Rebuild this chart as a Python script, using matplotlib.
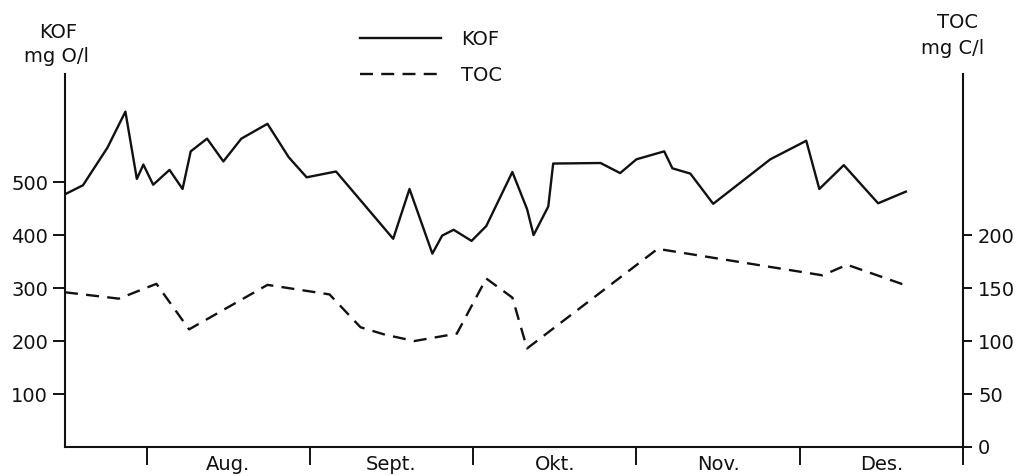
import matplotlib
matplotlib.use("Agg")
import matplotlib.pyplot as plt

plt.rcParams['font.family'] = ['DejaVu Sans']

# x positions in month units: 1 = start of Aug, 2 = start of Sept, ... 6 = end of Dec
kof_x = [0.50, 0.61, 0.76, 0.87, 0.94, 0.98, 1.04, 1.14, 1.22, 1.27, 1.37, 1.47,
         1.58, 1.74, 1.87, 1.98, 2.16, 2.51, 2.61, 2.75, 2.81, 2.88, 2.99, 3.08,
         3.24, 3.33, 3.37, 3.46, 3.49, 3.78, 3.90, 4.00, 4.17, 4.22, 4.33, 4.47,
         4.82, 5.04, 5.12, 5.27, 5.48, 5.65]
kof_y = [477, 494, 565, 633, 506, 533, 495, 523, 487, 558, 582, 539,
         582, 610, 547, 509, 520, 393, 487, 365, 399, 410, 389, 417,
         519, 449, 400, 454, 535, 536, 517, 543, 558, 526, 516, 459,
         543, 578, 487, 532, 460, 482]

toc_x = [0.50, 0.83, 1.06, 1.26, 1.74, 2.12, 2.31, 2.46, 2.64, 2.90, 3.08, 3.24,
         3.33, 4.13, 5.14, 5.29, 5.66]
toc_y = [146, 140, 154, 111, 153, 144, 113, 106, 100, 107, 159, 141,
         93, 187, 162, 172, 152]

month_edges = [1, 2, 3, 4, 5, 6]
month_centers = [1.5, 2.5, 3.5, 4.5, 5.5]
month_labels = ["Aug.", "Sept.", "Okt.", "Nov.", "Des."]
kof_ticks = [100, 200, 300, 400, 500]
toc_ticks = [0, 50, 100, 150, 200]

W, H = 1020, 476
fig = plt.figure(figsize=(W / 100, H / 100), dpi=100)
fig.patch.set_facecolor('white')
ax = fig.add_axes([65 / W, 1 - 447 / H, (963 - 65) / W, (447 - 74) / H])
ax2 = ax.twinx()

ink = '#111111'
l1, = ax.plot(kof_x, kof_y, color=ink, lw=1.7, label='KOF')
l2, = ax2.plot(toc_x, toc_y, color=ink, lw=1.7, ls=(0, (5.5, 3.5)), label='TOC')

ax.set_xlim(0.5, 6.0)
ax.set_ylim(0, 704)
ax2.set_ylim(0, 352)

for s in ['top', 'right']:
    ax.spines[s].set_visible(False)
for s in ['top', 'left', 'bottom']:
    ax2.spines[s].set_visible(False)
for sp in [ax.spines['left'], ax.spines['bottom'], ax2.spines['right']]:
    sp.set_linewidth(1.5)
    sp.set_color(ink)

ax.set_yticks(kof_ticks)
ax.tick_params(axis='y', direction='out', length=8.6, width=1.4, pad=3.6,
               labelsize=14, colors=ink)
ax2.set_yticks(toc_ticks)
ax2.tick_params(axis='y', direction='out', length=6.5, width=1.4, pad=4.3,
                labelsize=14, colors=ink)

ax.set_xticks(month_edges)
ax.set_xticklabels([''] * len(month_edges))
ax.set_xticks(month_centers, minor=True)
ax.set_xticklabels(month_labels, minor=True)
ax.tick_params(axis='x', which='major', direction='out', length=13, width=1.4, colors=ink)
ax.tick_params(axis='x', which='minor', length=0, pad=6.0, labelsize=14, colors=ink)

fig.text(58 / W, 1 - 32 / H, "KOF", ha='center', va='center', fontsize=14, color=ink)
fig.text(57 / W, 1 - 56 / H, "mg O/l", ha='center', va='center', fontsize=14, color=ink)
fig.text(958 / W, 1 - 22 / H, "TOC", ha='center', va='center', fontsize=14, color=ink)
fig.text(953 / W, 1 - 48 / H, "mg C/l", ha='center', va='center', fontsize=14, color=ink)

leg = fig.legend([l1, l2], ['KOF', 'TOC'], loc='upper left',
                 bbox_to_anchor=(350 / W, 1 - 20 / H), frameon=False, borderpad=0,
                 handlelength=4.2, handletextpad=1.0, labelspacing=0.9, fontsize=14)
for t in leg.get_texts():
    t.set_color(ink)

fig.savefig('out.png', dpi=100, facecolor='white')
